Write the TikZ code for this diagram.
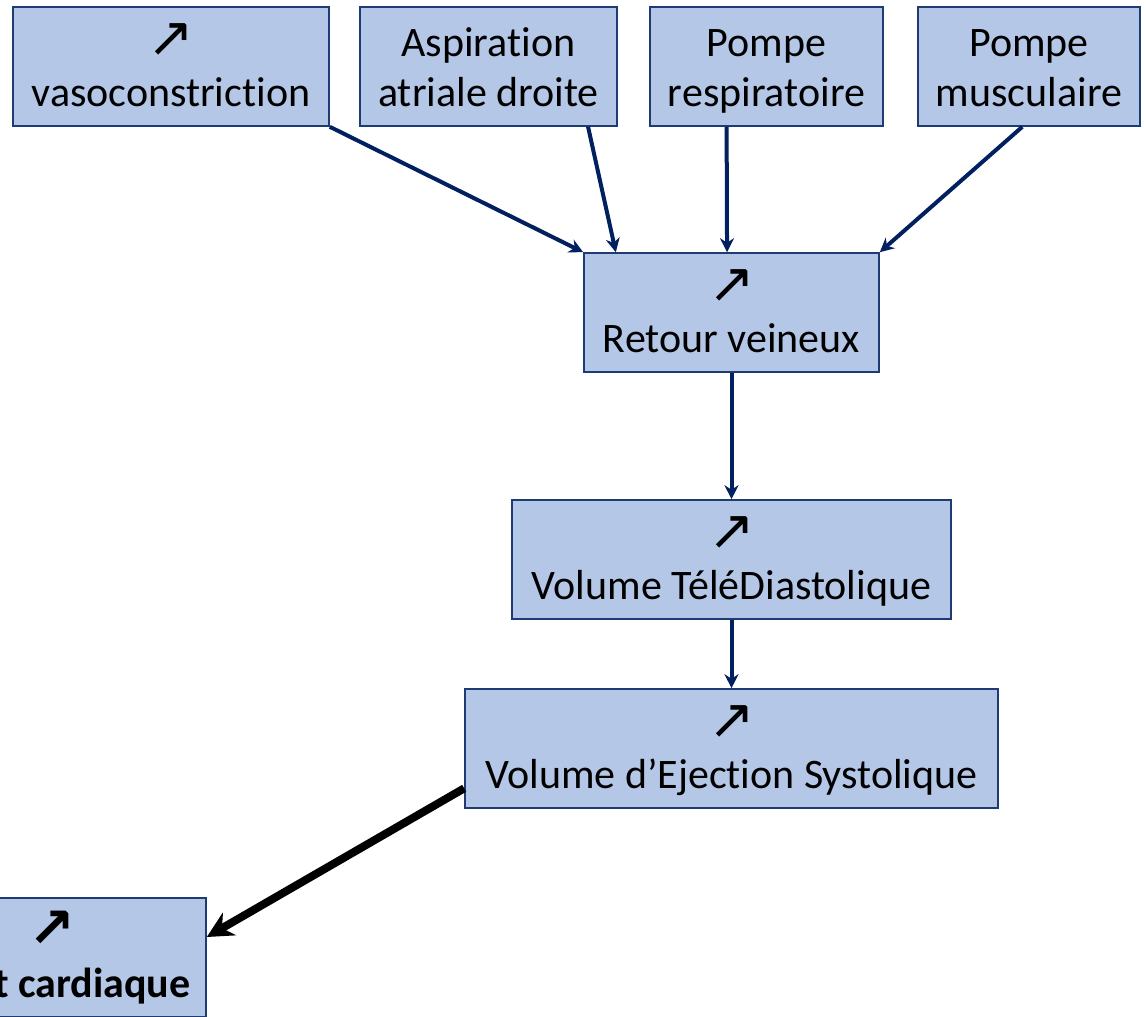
\documentclass[tikz,border=0pt]{standalone}
\usepackage{fontspec}
\setmainfont[Ligatures=NoCommon]{Carlito}
\newfontfamily\symfont{DejaVu Sans}
\usepackage{tikz}
\usetikzlibrary{arrows.meta,calc}
\definecolor{boxfill}{HTML}{B4C7E7}
\definecolor{boxline}{HTML}{1F3B73}
\definecolor{navy}{HTML}{002060}
\newcommand{\up}{{\symfont\fontsize{28}{28}\selectfont ↗}}
\newcommand{\topstrut}{\rule{0pt}{22.5pt}}
\tikzset{
  factor/.style={draw=boxline,fill=boxfill,line width=0.8pt,align=center,minimum height=59.5pt,inner sep=0pt,font=\fontsize{21}{25}\selectfont},
  link/.style={-{Stealth[length=7pt,width=7pt]},line width=2pt,draw=navy},
  biglink/.style={-{Stealth[length=13pt,width=13pt]},line width=4pt,draw=black}
}

\begin{document}
\begin{tikzpicture}[x=0.5pt,y=-0.5pt]
    \useasboundingbox (0,0) rectangle (1146,1017);
    \clip (0,0) rectangle (1146,1017);
    % causes
    \node[factor,minimum width=158pt] (vaso) at (171,66.5) {\topstrut\up\\\strut vasoconstriction};
    \node[factor,minimum width=128.5pt] (aspi) at (488.5,66.5) {\topstrut Aspiration\\\strut atriale droite};
    \node[factor,minimum width=116.5pt] (resp) at (766.5,66.5) {\topstrut Pompe\\\strut respiratoire};
    \node[factor,minimum width=111pt] (musc) at (1029,66.5) {\topstrut Pompe\\\strut musculaire};
    % chain
    \node[factor,minimum width=147.5pt] (retour) at (731.5,312.5) {\topstrut\up\\\strut Retour veineux};
    \node[factor,minimum width=219.5pt] (vtd) at (731.5,559.5) {\topstrut\up\\\strut Volume TéléDiastolique};
    \node[factor,minimum width=266.5pt] (ves) at (731.5,748.5) {\topstrut\up\\\strut Volume d’Ejection Systolique};
    \node[factor,minimum width=154pt,font=\fontsize{21}{25}\selectfont\bfseries] (debit) at (52,957.5) {\topstrut\up\\\strut Débit cardiaque};
    \draw[link] (vaso.south east) -- (retour.north west);
    \draw[link] ($(aspi.south west)!0.885!(aspi.south east)$) -- ($(retour.north west)!0.11!(retour.north east)$);
    \draw[link] ($(resp.south west)!0.33!(resp.south east)$) -- ($(retour.north west)!0.485!(retour.north east)$);
    \draw[link] ($(musc.south west)!0.47!(musc.south east)$) -- (retour.north east);
    \draw[link] (retour.south) -- (vtd.north);
    \draw[link] (vtd.south) -- (ves.north);
    \draw[biglink] ($(ves.north west)!0.83!(ves.south west)$) -- ($(debit.north east)!0.33!(debit.south east)$);
\end{tikzpicture}
\end{document}
